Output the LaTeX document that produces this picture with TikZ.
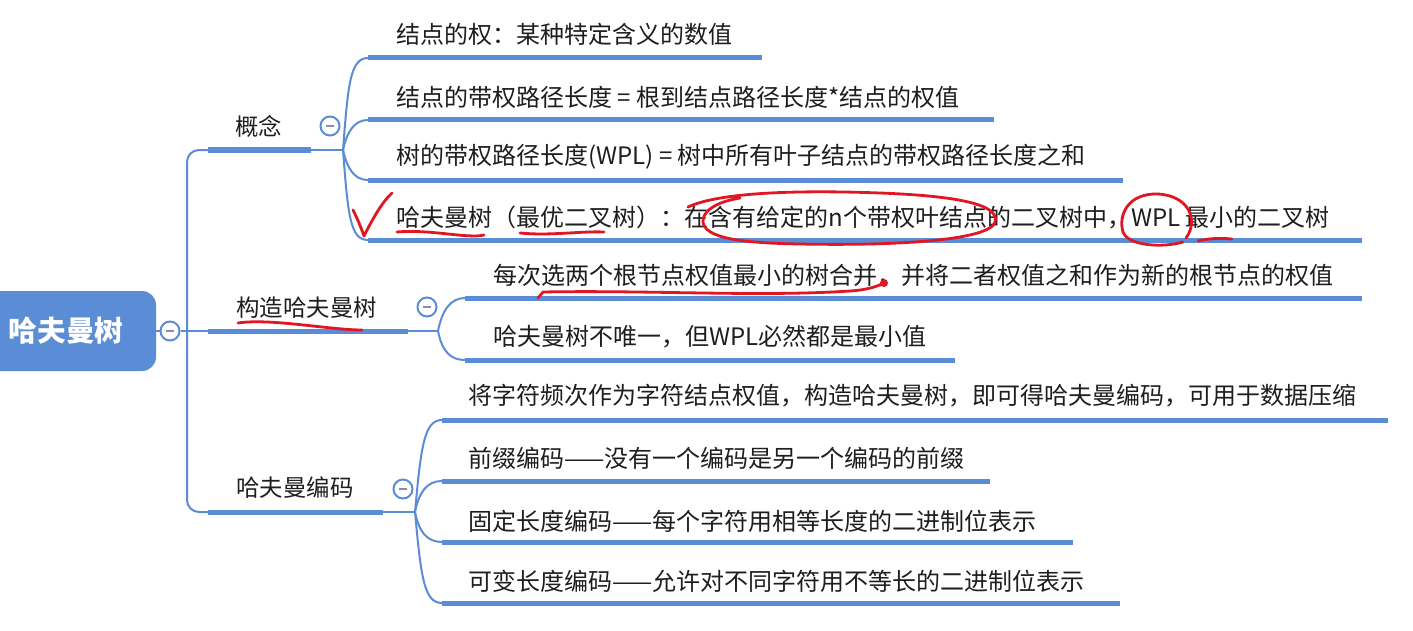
\documentclass[tikz,border=0pt]{standalone}
\usepackage{fontspec}
\setmainfont{Noto Sans CJK SC}
\definecolor{mmblue}{RGB}{90,141,214}
\definecolor{mmtext}{RGB}{30,30,30}
\definecolor{mmminus}{RGB}{140,138,178}
\definecolor{redink}{RGB}{226,22,34}
\begin{document}
\begin{tikzpicture}[x=0.5pt,y=-0.5pt,
  mmconn/.style={draw=mmblue, line width=1pt},
  mmbar/.style={draw=mmblue, line width=2.5pt},
  mmlabel/.style={anchor=west, inner sep=0pt, text=mmtext, font=\fontsize{11.7pt}{14pt}\selectfont},
  mmleaf/.style={anchor=west, inner sep=0pt, text=mmtext, font=\fontsize{12pt}{14pt}\selectfont},
  mmfold/.style={circle, draw=mmblue, line width=1pt, fill=white, minimum size=9.5pt, inner sep=0pt,
    path picture={\draw[mmminus, line width=1.1pt] ([xshift=-2.2pt]path picture bounding box.center) -- ([xshift=2.2pt]path picture bounding box.center);}},
  mmroot/.style={rectangle, rounded corners=7pt, fill=mmblue, text=white, minimum width=90pt, minimum height=40pt, inner sep=0pt, font=\fontsize{14.3pt}{16pt}\selectfont\bfseries},
  redmark/.style={draw=redink, line width=1.4pt, line cap=round, line join=round}
]
\clip (0,0) rectangle (1413,631);
\fill[white] (0,0) rectangle (1413,631);

% root
\node[mmroot] (root) at (66,331) {哈夫曼树};
\node[mmfold] (c0) at (170,331) {};
\coordinate (t) at (187,331);

% branch anchors
\coordinate (b1a) at (208,150); \coordinate (b1b) at (311,150); \coordinate (f1) at (343,150);
\coordinate (b2a) at (208,331); \coordinate (b2b) at (408,331); \coordinate (f2) at (438,331);
\coordinate (b3a) at (208,512); \coordinate (b3b) at (383,512); \coordinate (f3) at (415,512);

\draw[mmconn] (root.east) -- (c0.west);
\draw[mmconn] (c0.east) -- (b2a);
\draw[mmconn, rounded corners=6pt] (b1a) -| (t) |- (b3a);

\draw[mmbar] (b1a) -- (b1b); \draw[mmconn] (b1b) -- (f1);
\draw[mmbar] (b2a) -- (b2b); \draw[mmconn] (b2b) -- (f2);
\draw[mmbar] (b3a) -- (b3b); \draw[mmconn] (b3b) -- (f3);

\node[mmlabel] (k1) at (235,126) {概念};
\node[mmlabel] (k2) at (236,308) {构造哈夫曼树};
\node[mmlabel] (k3) at (236,488) {哈夫曼编码};
\node[mmfold] (c1) at (330,126) {};
\node[mmfold] (c2) at (427,307) {};
\node[mmfold] (c3) at (403,489) {};

% concept leaves
\coordinate (l1a) at (368,58);  \coordinate (l1b) at (762,58);
\coordinate (l2a) at (368,120); \coordinate (l2b) at (994,120);
\coordinate (l3a) at (368,180); \coordinate (l3b) at (1123,180);
\coordinate (l4a) at (368,240); \coordinate (l4b) at (1362,240);
\draw[mmconn] (f1) .. controls +(5,-65) and +(-18,0) .. (l1a);
\draw[mmconn] (f1) .. controls +(4,-18) and +(-14,0) .. (l2a);
\draw[mmconn] (f1) .. controls +(4,18) and +(-14,0) .. (l3a);
\draw[mmconn] (f1) .. controls +(5,65) and +(-18,0) .. (l4a);
\draw[mmbar] (l1a) -- (l1b);
\draw[mmbar] (l2a) -- (l2b);
\draw[mmbar] (l3a) -- (l3b);
\draw[mmbar] (l4a) -- (l4b);
\node[mmleaf] (l1) at (396,34) {结点的权：某种特定含义的数值};
\node[mmleaf] (l2) at (396,97) {结点的带权路径长度 = 根到结点路径长度*结点的权值};
\node[mmleaf] (l3) at (396,157) {树的带权路径长度(WPL) = 树中所有叶子结点的带权路径长度之和};
\node[mmleaf] (l4) at (396,218) {哈夫曼树（最优二叉树）：在含有给定的n个带权叶结点的二叉树中，WPL 最小的二叉树};

% construction leaves
\coordinate (m1a) at (465,298); \coordinate (m1b) at (1362,298);
\coordinate (m2a) at (465,360); \coordinate (m2b) at (955,360);
\draw[mmconn] (f2) .. controls +(4,-20) and +(-15,0) .. (m1a);
\draw[mmconn] (f2) .. controls +(4,20) and +(-15,0) .. (m2a);
\draw[mmbar] (m1a) -- (m1b);
\draw[mmbar] (m2a) -- (m2b);
\node[mmleaf] (m1) at (493,276) {每次选两个根节点权值最小的树合并，并将二者权值之和作为新的根节点的权值};
\node[mmleaf] (m2) at (493,337) {哈夫曼树不唯一，但WPL必然都是最小值};

% coding leaves
\coordinate (n1a) at (442,420); \coordinate (n1b) at (1388,420);
\coordinate (n2a) at (442,481); \coordinate (n2b) at (990,481);
\coordinate (n3a) at (442,542); \coordinate (n3b) at (1073,542);
\coordinate (n4a) at (442,603); \coordinate (n4b) at (1120,603);
\draw[mmconn] (f3) .. controls +(6,-65) and +(-18,0) .. (n1a);
\draw[mmconn] (f3) .. controls +(4,-20) and +(-15,0) .. (n2a);
\draw[mmconn] (f3) .. controls +(4,20) and +(-15,0) .. (n3a);
\draw[mmconn] (f3) .. controls +(6,65) and +(-18,0) .. (n4a);
\draw[mmbar] (n1a) -- (n1b);
\draw[mmbar] (n2a) -- (n2b);
\draw[mmbar] (n3a) -- (n3b);
\draw[mmbar] (n4a) -- (n4b);
\node[mmleaf] (n1) at (468,396) {将字符频次作为字符结点权值，构造哈夫曼树，即可得哈夫曼编码，可用于数据压缩};
\node[mmleaf] (n2) at (468,458) {前缀编码——没有一个编码是另一个编码的前缀};
\node[mmleaf] (n3) at (468,521) {固定长度编码——每个字符用相等长度的二进制位表示};
\node[mmleaf] (n4) at (468,581) {可变长度编码——允许对不同字符用不等长的二进制位表示};

% red handwritten marks
\draw[redmark] (353,210) .. controls (358,220) and (362,230) .. (364,236) .. controls (372,220) and (382,202) .. (392,193);
\draw[redmark] (397,232) .. controls (430,229) and (468,239) .. (484,235);
\draw[redmark] (520,233) .. controls (550,236) and (580,231) .. (604,232);
\draw[redmark] (688,207) .. controls (720,192) and (800,190) .. (880,193) .. controls (960,196) and (1000,205) .. (995,222) .. controls (990,240) and (900,246) .. (800,244) .. controls (740,243) and (705,238) .. (703,222) .. controls (702,212) and (715,202) .. (740,198);
\draw[redmark] (1186,238) .. controls (1198,222) and (1191,196) .. (1158,194) .. controls (1128,193) and (1118,215) .. (1123,232) .. controls (1128,246) and (1163,248) .. (1183,242);
\draw[redmark] (1198,241) .. controls (1210,238) and (1222,238) .. (1232,239);
\draw[redmark] (238,323) .. controls (270,318) and (330,330) .. (362,330);
\draw[redmark] (538,298) -- (543,292) .. controls (650,290) and (760,297) .. (850,291) .. controls (866,290) and (876,287) .. (884,283);
\fill[redink] (884,283) circle (2pt);
\end{tikzpicture}
\end{document}
